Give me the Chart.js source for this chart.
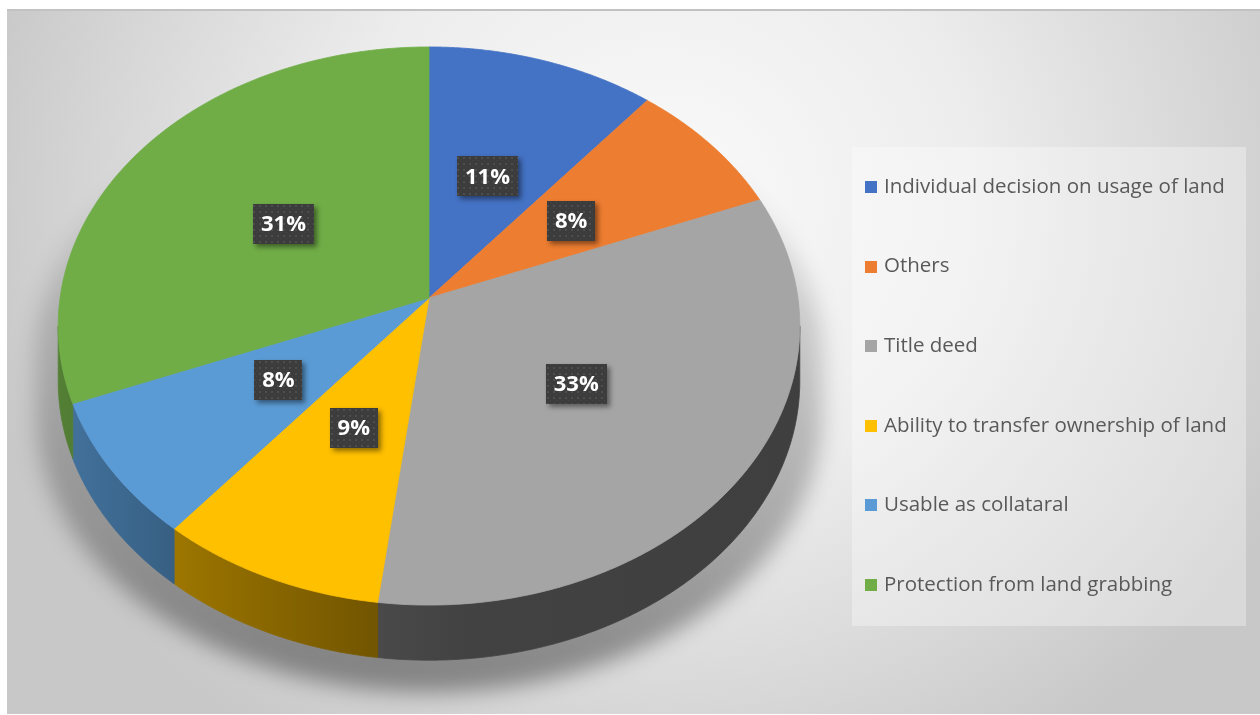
<!DOCTYPE html>
<html>
<head>
<meta charset="utf-8">
<script src="https://cdn.jsdelivr.net/npm/chart.js@4.4.1/dist/chart.umd.min.js"></script>
<style>
  html, body { margin: 0; padding: 0; background: #ffffff; }
  canvas { display: block; }
</style>
</head>
<body>
<canvas id="chart" width="1260" height="715"></canvas>
<script>
// ---- data ----
const categories = [
  'Individual decision on usage of land',
  'Others',
  'Title deed',
  'Ability to transfer ownership of land',
  'Usable as collataral',
  'Protection from land grabbing'
];
const shares = [11, 8, 33, 9, 8, 31];
const shareLabels = shares.map(v => v + '%');

// ---- styles ----
const topColors = ['#4472C4', '#ED7D31', '#A5A5A5', '#FFC000', '#5B9BD5', '#70AD47'];

// view of the tilted disc, relative to the pie radius the library computes
const VIEW = { sx: 1.238, sy: 0.927, persp: 0.1004, depth: 0.185 };
// light falls from the left: shading of the rim along the pie width
const RIM_SHADE = [[0, 0.74], [0.15, 0.62], [0.42, 0.45], [0.55, 0.40], [1, 0.38]];

function hexToRgb(h) {
  const n = parseInt(h.slice(1), 16);
  return [(n >> 16) & 255, (n >> 8) & 255, n & 255];
}
function shadeColor(h, f) {
  const [r, g, b] = hexToRgb(h);
  return `rgb(${Math.round(r * f)},${Math.round(g * f)},${Math.round(b * f)})`;
}

// perspective projection of a point on the disc (angle, fraction of radius)
function project(el, theta, rho, down) {
  const R = el.outerRadius;
  const u = rho * Math.cos(theta);
  const v = rho * Math.sin(theta);
  const w = 1 - VIEW.persp * v;
  return {
    x: el.x + VIEW.sx * R * u / w,
    y: el.y + VIEW.sy * R * v / w + (down ? VIEW.depth * R : 0)
  };
}

function rimPoints(el, a, b, down) {
  const pts = [];
  const n = Math.max(2, Math.ceil(Math.abs(b - a) / 0.008));
  for (let i = 0; i <= n; i++) {
    pts.push(project(el, a + (b - a) * i / n, 1, down));
  }
  return pts;
}

function makeDotPattern(ctx) {
  const c = document.createElement('canvas');
  c.width = 6; c.height = 6;
  const p = c.getContext('2d');
  p.fillStyle = '#3c3c3c';
  p.fillRect(0, 0, 6, 6);
  p.fillStyle = '#4e4e4e';
  p.fillRect(1, 1, 2, 2);
  p.fillStyle = '#464646';
  p.fillRect(4, 4, 1, 1);
  return ctx.createPattern(c, 'repeat');
}

const pie3d = {
  id: 'pie3d',
  beforeDraw(chart) {
    const ctx = chart.ctx;
    const W = chart.width, H = chart.height;
    ctx.save();
    ctx.fillStyle = '#ffffff';
    ctx.fillRect(0, 0, W, H);
    // chart frame with a soft radial fill
    const fx = 7, fy = 9, fw = W - 7, fh = H - 10;
    ctx.beginPath();
    ctx.rect(fx, fy, fw, fh);
    ctx.clip();
    ctx.save();
    ctx.translate(660, 200);
    ctx.scale(1, 650 / 700);
    const g = ctx.createRadialGradient(0, 0, 0, 0, 0, 700);
    g.addColorStop(0, '#fafafa');
    g.addColorStop(0.45, '#ededed');
    g.addColorStop(0.8, '#d6d6d6');
    g.addColorStop(1, '#c8c8c8');
    ctx.fillStyle = g;
    ctx.fillRect(-1000, -1000, 3000, 3000);
    ctx.restore();
    ctx.fillStyle = '#c2c2c2';
    ctx.fillRect(fx, fy, fw, 2);
    ctx.restore();
  },
  beforeDatasetsDraw(chart) {
    const ctx = chart.ctx;
    const meta = chart.getDatasetMeta(0);
    const arcs = meta.data;
    if (!arcs.length) return false;
    const el0 = arcs[0];
    const R = el0.outerRadius;
    const thR = Math.asin(VIEW.persp);
    const thL = Math.PI - thR;
    const left = el0.x - VIEW.sx * R * 1.005;
    const right = el0.x + VIEW.sx * R * 1.005;

    // cast shadow under the disc
    ctx.save();
    const sil = [].concat(
      rimPoints(el0, thL, thR + 2 * Math.PI, false),
      rimPoints(el0, thR, thL, true)
    );
    ctx.filter = 'blur(11px)';
    const sg = ctx.createLinearGradient(0, 140, 0, 700);
    sg.addColorStop(0, 'rgba(0,0,0,0)');
    sg.addColorStop(0.3, 'rgba(0,0,0,0.16)');
    sg.addColorStop(0.7, 'rgba(0,0,0,0.28)');
    sg.addColorStop(1, 'rgba(0,0,0,0.40)');
    ctx.fillStyle = sg;
    ctx.beginPath();
    sil.forEach((p, i) => {
      const x = el0.x + (p.x - el0.x) * 1.06;
      const y = p.y + 32;
      i ? ctx.lineTo(x, y) : ctx.moveTo(x, y);
    });
    ctx.closePath();
    ctx.fill();
    ctx.restore();

    // rim (front half only)
    arcs.forEach((el, i) => {
      const a = el.startAngle, b = el.endAngle;
      const spans = [[a, b], [a - 2 * Math.PI, b - 2 * Math.PI]];
      spans.forEach(([s, e]) => {
        const lo = Math.max(s, thR), hi = Math.min(e, thL);
        if (hi <= lo) return;
        const topPts = rimPoints(el, lo, hi, false);
        const botPts = rimPoints(el, hi, lo, true);
        const grad = ctx.createLinearGradient(left, 0, right, 0);
        RIM_SHADE.forEach(([t, f]) => grad.addColorStop(t, shadeColor(topColors[i], f)));
        ctx.save();
        ctx.fillStyle = grad;
        ctx.strokeStyle = grad;
        ctx.lineWidth = 0.8;
        ctx.beginPath();
        topPts.concat(botPts).forEach((p, k) => k ? ctx.lineTo(p.x, p.y) : ctx.moveTo(p.x, p.y));
        ctx.closePath();
        ctx.fill();
        ctx.stroke();
        ctx.restore();
      });
    });

    // top faces
    arcs.forEach((el, i) => {
      const pts = rimPoints(el, el.startAngle, el.endAngle, false);
      ctx.save();
      ctx.fillStyle = topColors[i];
      ctx.strokeStyle = topColors[i];
      ctx.lineWidth = 0.8;
      ctx.lineJoin = 'round';
      ctx.beginPath();
      ctx.moveTo(el.x, el.y);
      pts.forEach(p => ctx.lineTo(p.x, p.y));
      ctx.closePath();
      ctx.fill();
      ctx.stroke();
      ctx.restore();
    });

    // value labels
    const pattern = makeDotPattern(ctx);
    ctx.save();
    ctx.font = 'bold 22px "Open Sans", "DejaVu Sans", sans-serif';
    ctx.textAlign = 'center';
    ctx.textBaseline = 'middle';
    arcs.forEach((el, i) => {
      const mid = (el.startAngle + el.endAngle) / 2;
      const p = project(el, mid, 0.49, false);
      const tw = ctx.measureText(shareLabels[i]).width;
      const bw = Math.round(tw + 16), bh = 40;
      const bx = Math.round(p.x - bw / 2), by = Math.round(p.y - bh / 2);
      ctx.save();
      ctx.shadowColor = 'rgba(0,0,0,0.45)';
      ctx.shadowBlur = 5;
      ctx.shadowOffsetX = 3;
      ctx.shadowOffsetY = 3;
      ctx.fillStyle = '#3c3c3c';
      ctx.fillRect(bx, by, bw, bh);
      ctx.restore();
      ctx.fillStyle = pattern;
      ctx.fillRect(bx, by, bw, bh);
      ctx.fillStyle = '#ffffff';
      ctx.fillText(shareLabels[i], p.x, p.y + 1);
    });
    ctx.restore();
    return false;
  },
  afterDraw(chart) {
    // legend panel on the right
    const ctx = chart.ctx;
    ctx.save();
    ctx.fillStyle = 'rgba(255,255,255,0.32)';
    ctx.fillRect(852, 147, 394, 479);
    ctx.font = '20.5px "Open Sans", "Noto Sans", sans-serif';
    ctx.textBaseline = 'middle';
    ctx.textAlign = 'left';
    categories.forEach((name, i) => {
      const cy = 187 + i * 79.6;
      ctx.fillStyle = topColors[i];
      ctx.fillRect(865, Math.round(cy - 6), 12, 12);
      ctx.fillStyle = '#595959';
      ctx.fillText(name, 884, cy);
    });
    ctx.restore();
  }
};

new Chart(document.getElementById('chart'), {
  type: 'pie',
  data: {
    labels: categories,
    datasets: [{
      data: shares,
      backgroundColor: topColors,
      borderWidth: 0
    }]
  },
  options: {
    responsive: false,
    animation: false,
    layout: { padding: { left: 131, right: 533, top: 0, bottom: 119 } },
    plugins: {
      legend: { display: false },
      tooltip: { enabled: false }
    }
  },
  plugins: [pie3d]
});
</script>
</body>
</html>
